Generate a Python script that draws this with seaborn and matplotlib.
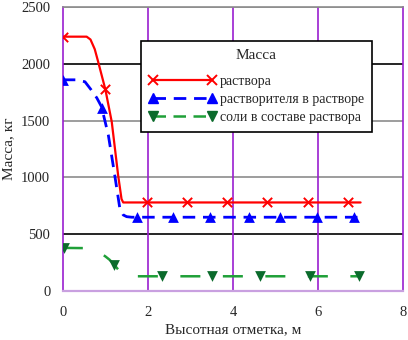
import numpy as np
import pandas as pd
import seaborn as sns
import matplotlib.pyplot as plt
from matplotlib.lines import Line2D
from matplotlib.ticker import MultipleLocator

# line traces (height, m -> mass, kg)
x_sol = [0.0, 0.56, 0.65, 0.75, 0.83, 1.0, 1.15, 1.3, 1.38, 1.42, 7.0]
y_sol = [2240, 2240, 2215, 2130, 2020, 1775, 1490, 1020, 810, 780, 780]
x_solv = [0.0, 0.3, 0.52, 0.67, 0.8, 0.91, 1.07, 1.22, 1.34, 1.42, 1.5, 1.62, 7.0]
y_solv = [1860, 1860, 1843, 1770, 1700, 1623, 1373, 1021, 728, 670, 655, 650, 650]
x_salt = [0.0, 0.5, 0.7, 0.9, 1.0, 1.1, 1.2, 1.3, 1.4, 1.5, 7.0]
y_salt = [380, 378, 365, 330, 305, 275, 235, 190, 150, 130, 130]

# marker positions
mx_sol = [0.0, 1.0, 1.98, 2.91, 3.86, 4.8, 5.76, 6.7]
my_sol = [2240, 1780, 780, 780, 780, 780, 780, 780]
mx_solv = [0.0, 0.92, 1.74, 2.6, 3.46, 4.37, 5.11, 5.98, 6.85]
my_solv = [1860, 1610, 650, 650, 650, 650, 650, 650, 650]
mx_salt = [0.02, 1.21, 2.34, 3.5, 4.64, 5.8, 6.96]
my_salt = [376, 229, 130, 130, 130, 130, 130]

labels = ["раствора", "растворителя в растворе", "соли в составе раствора"]

sns.set_style("white")
plt.rcParams['font.family'] = ['Liberation Serif', 'DejaVu Serif']

fig, ax = plt.subplots(figsize=(4.08, 3.4), dpi=100)
fig.subplots_adjust(left=0.154, right=0.988, bottom=0.144, top=0.979)

purple = "#9a1fd0"
lav = "#c9a0e0"

# grid lines
for yv in [500, 1000, 1500, 2000, 2500]:
    ax.axhline(yv, color="black" if yv in (500, 2000) else "#8c8c8c", lw=1.2, zorder=1)
for xv in [2, 4, 6]:
    ax.axvline(xv, color=purple, lw=1.2, zorder=1)

red, blue, gline, gmark = "#ff0000", "#0000ff", "#1fa038", "#0b6b2c"

sns.lineplot(x=x_sol, y=y_sol, ax=ax, color=red, lw=1.6, zorder=3)
ax.lines[-1].set_linestyle("-")
sns.lineplot(x=x_solv, y=y_solv, ax=ax, color=blue, lw=2.0, zorder=3)
ax.lines[-1].set_dashes((4.5, 2.8))
sns.lineplot(x=x_salt, y=y_salt, ax=ax, color=gline, lw=1.8, zorder=3)
ax.lines[-1].set_dashes((8, 9))

sns.scatterplot(x=mx_sol, y=my_sol, ax=ax, marker="x", color=red, s=45,
                linewidth=1.4, zorder=4)
sns.scatterplot(x=mx_solv, y=my_solv, ax=ax, marker="^", color=blue, s=60,
                linewidth=0, zorder=4)
sns.scatterplot(x=mx_salt, y=my_salt, ax=ax, marker="v", color=gmark, s=60,
                linewidth=0, zorder=4)

ax.set_xlim(0, 8)
ax.set_ylim(0, 2500)
ax.xaxis.set_major_locator(MultipleLocator(2))
ax.xaxis.set_minor_locator(MultipleLocator(1))
ax.yaxis.set_major_locator(MultipleLocator(500))
ax.yaxis.set_minor_locator(MultipleLocator(250))
ax.tick_params(axis="both", which="major", direction="out", length=6, width=1.2,
               color=purple, labelsize=10.5, pad=3)
ax.tick_params(axis="both", which="minor", direction="out", length=6, width=1.6,
               color=lav)
ax.tick_params(axis="x", which="major", pad=5)

for side in ["left", "right"]:
    ax.spines[side].set_color(purple)
    ax.spines[side].set_linewidth(1.2)
ax.spines["bottom"].set_color(lav)
ax.spines["bottom"].set_linewidth(1.6)
ax.spines["top"].set_color("#8c8c8c")
ax.spines["top"].set_linewidth(1.2)

ax.set_xlabel("Высотная отметка, м", fontsize=11, labelpad=3)
ax.set_ylabel("Масса, кг", fontsize=11, labelpad=4)

handles = [
    Line2D([], [], color=red, lw=1.6, marker="x", ms=6.5, mew=1.4),
    Line2D([], [], color=blue, lw=2.0, ls=(0, (4.5, 2.8)), marker="^", ms=7.5, mec=blue),
    Line2D([], [], color=gline, lw=1.8, ls=(0, (5, 3)), marker="v", ms=7.5,
           mfc=gmark, mec=gmark),
]
leg = ax.legend(handles, labels, title="Масса", loc="upper right",
                bbox_to_anchor=(0.93, 0.905), fontsize=10, title_fontsize=11,
                numpoints=2, handlelength=4.8, handletextpad=0.3,
                borderpad=0.6, labelspacing=0.36, fancybox=False,
                framealpha=1, edgecolor="black")
leg.get_frame().set_linewidth(1.2)
leg._legend_box.sep = 9
leg.set_zorder(5)

fig.savefig("out.png", dpi=100)
